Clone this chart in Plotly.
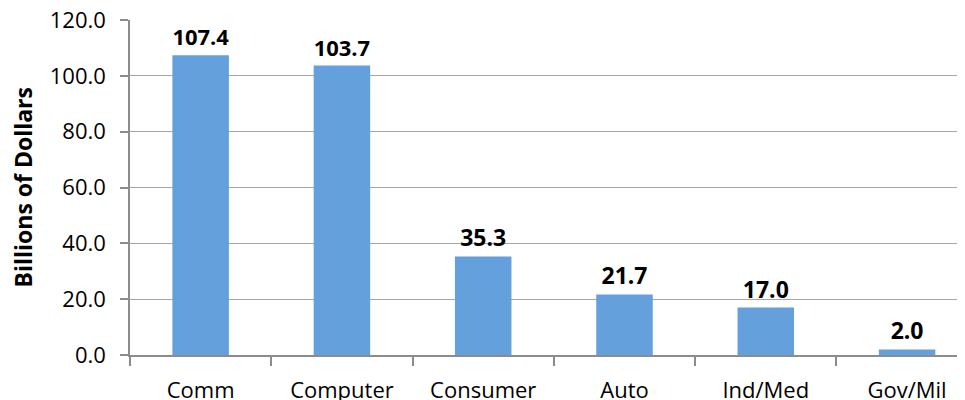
import plotly.graph_objects as go

categories = ["Comm", "Computer", "Consumer", "Auto", "Ind/Med", "Gov/Mil"]
values = [107.4, 103.7, 35.3, 21.7, 17.0, 2.0]
y_ticks = [0, 20, 40, 60, 80, 100, 120]
y_tick_labels = ["0.0", "20.0", "40.0", "60.0", "80.0", "100.0", "120.0"]

FONT = "Open Sans"
AXIS = "#8C8C8C"
GRID = "#A6A6A6"

fig = go.Figure(
    go.Bar(
        x=categories,
        y=values,
        width=0.4,
        marker=dict(color="#64A0DC", line=dict(width=0)),
        text=[f"{v:.1f}" for v in values],
        textposition="outside",
        textfont=dict(family=FONT, size=23, color="#000000", weight="bold"),
        cliponaxis=False,
    )
)

# page body has an 8px default margin, so the figure is sized to fill the rest
fig.update_layout(
    width=957,
    height=392,
    margin=dict(l=122, r=0, t=12, b=45, autoexpand=False),
    paper_bgcolor="white",
    plot_bgcolor="white",
    showlegend=False,
    font=dict(family=FONT, size=22, color="#000000"),
    bargap=0.6,
)

fig.update_xaxes(
    range=[-0.5, 5.41],
    showline=True,
    linecolor=AXIS,
    linewidth=1.5,
    ticks="outside",
    tickson="boundaries",
    ticklen=9,
    tickwidth=1.5,
    tickcolor=AXIS,
    showgrid=False,
    ticklabelstandoff=15,
    ticklabeloverflow="allow",
    tickfont=dict(family=FONT, size=22, color="#000000"),
    automargin=False,
    fixedrange=True,
)

fig.update_yaxes(
    range=[0, 120],
    tickvals=y_ticks,
    ticktext=y_tick_labels,
    showline=True,
    linecolor=AXIS,
    linewidth=1.5,
    ticks="outside",
    ticklen=8,
    tickwidth=1.5,
    tickcolor=AXIS,
    showgrid=True,
    gridcolor=GRID,
    gridwidth=1,
    zeroline=False,
    ticklabelstandoff=10,
    ticklabeloverflow="allow",
    tickfont=dict(family=FONT, size=22, color="#000000"),
    automargin=False,
    fixedrange=True,
)

fig.add_annotation(
    text="Billions of Dollars",
    xref="paper",
    yref="paper",
    x=0,
    y=0.5,
    xanchor="center",
    yanchor="middle",
    xshift=-108,
    textangle=-90,
    showarrow=False,
    font=dict(family=FONT, size=23, color="#000000", weight="bold"),
)

fig.write_html("out.html", config={"displayModeBar": False})
